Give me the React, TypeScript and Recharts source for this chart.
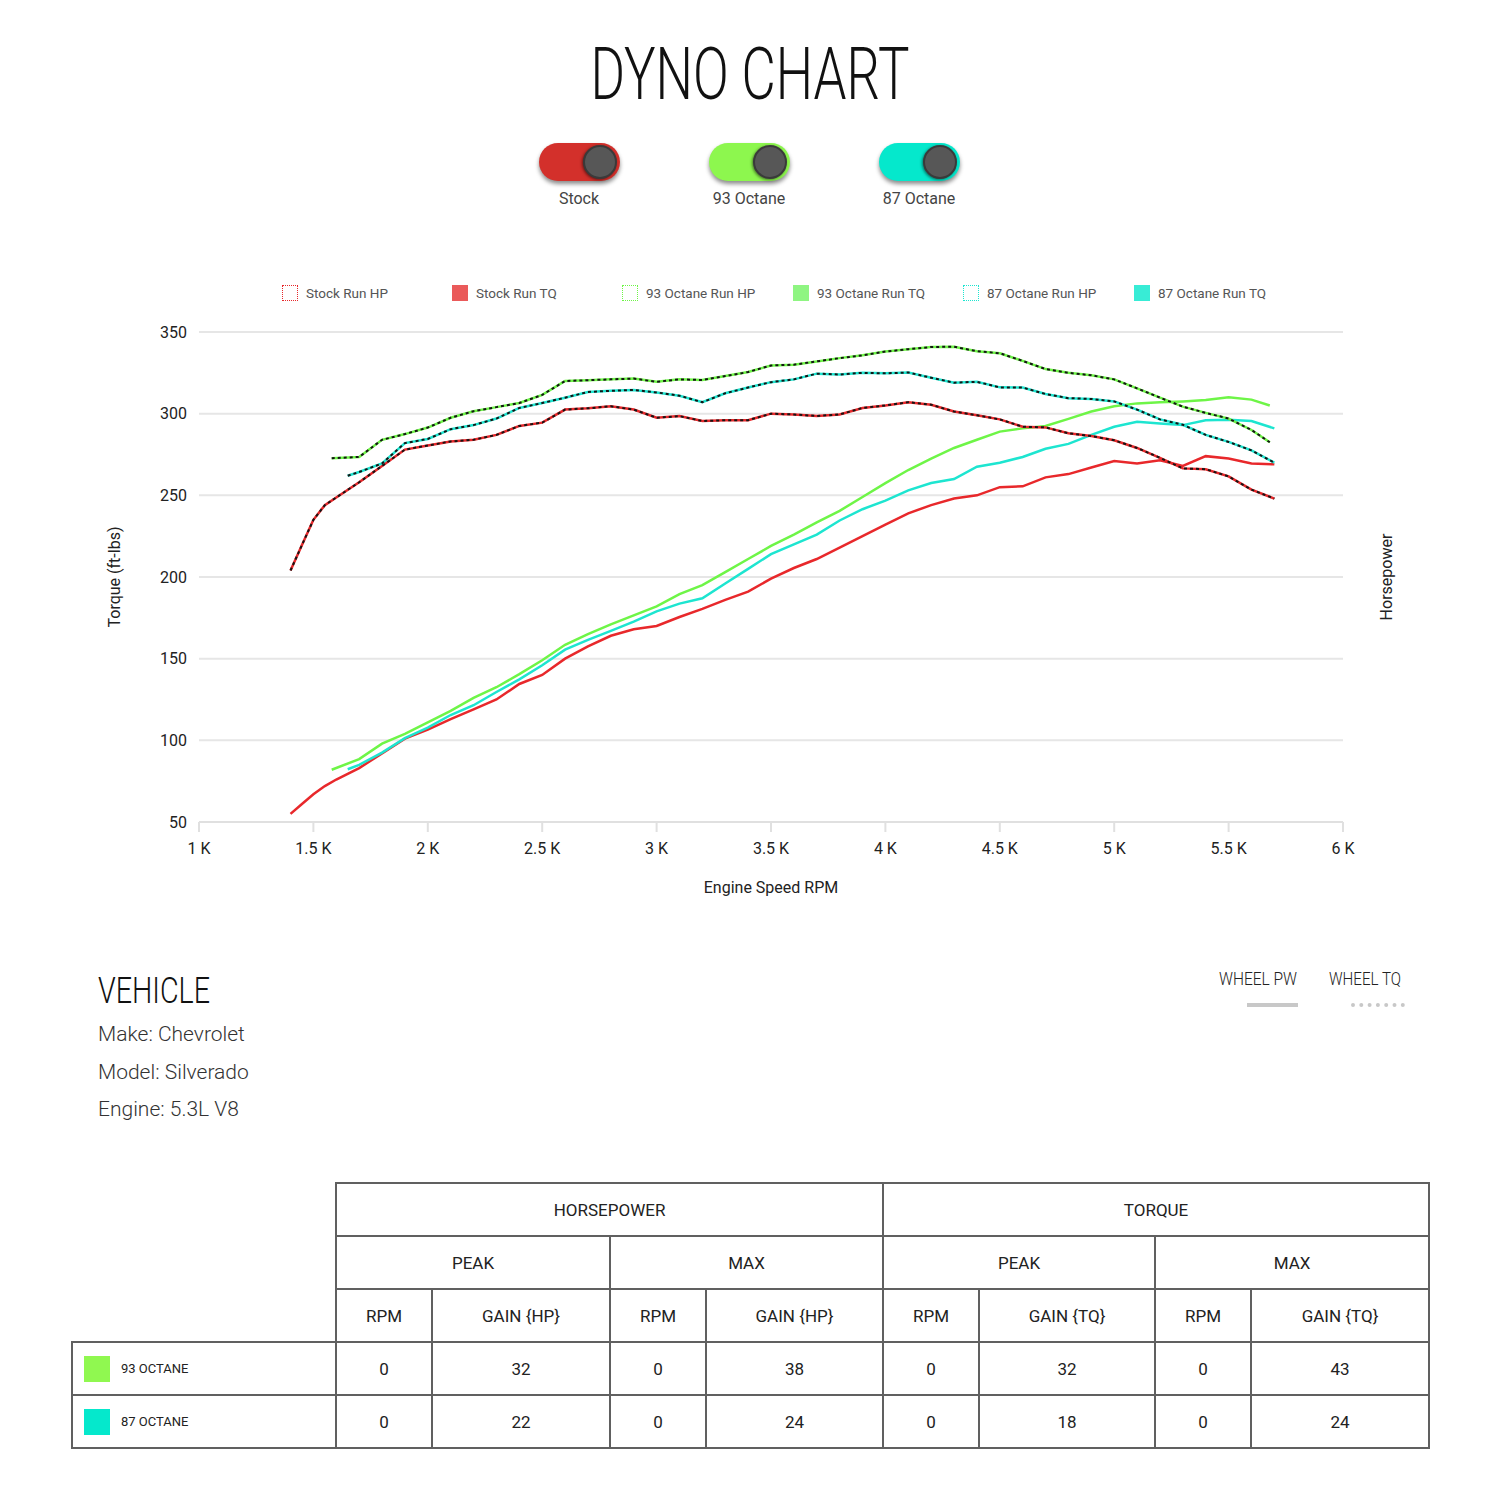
import React from "react";
import { CartesianGrid, Line, LineChart, XAxis, YAxis } from "recharts";

// rpm grids per run (each run was logged over a slightly different range)
const stockRpm = [1400, 1450, 1500, 1550, 1600, 1700, 1800, 1900, 2000, 2100, 2200, 2300, 2400, 2500, 2600, 2700, 2800, 2900, 3000, 3100, 3200, 3300, 3400, 3500, 3600, 3700, 3800, 3900, 4000, 4100, 4200, 4300, 4400, 4500, 4600, 4700, 4800, 4900, 5000, 5100, 5200, 5300, 5400, 5500, 5600, 5700];
const oct93Rpm = [1580, 1700, 1800, 1900, 2000, 2100, 2200, 2300, 2400, 2500, 2600, 2700, 2800, 2900, 3000, 3100, 3200, 3300, 3400, 3500, 3600, 3700, 3800, 3900, 4000, 4100, 4200, 4300, 4400, 4500, 4600, 4700, 4800, 4900, 5000, 5100, 5200, 5300, 5400, 5500, 5600, 5680];
const oct87Rpm = [1650, 1700, 1800, 1900, 2000, 2100, 2200, 2300, 2400, 2500, 2600, 2700, 2800, 2900, 3000, 3100, 3200, 3300, 3400, 3500, 3600, 3700, 3800, 3900, 4000, 4100, 4200, 4300, 4400, 4500, 4600, 4700, 4800, 4900, 5000, 5100, 5200, 5300, 5400, 5500, 5600, 5700];

const stockTq = [204, 219.6, 235, 244, 248.7, 258, 268, 278, 280.5, 283, 284, 287, 292.5, 294.5, 302.5, 303.3, 304.5, 302.5, 297.5, 298.5, 295.5, 296, 296, 300, 299.5, 298.6, 299.5, 303.5, 305, 307, 305.5, 301.3, 299, 296.5, 292, 291.6, 288, 286.3, 283.7, 279, 273, 266.5, 266, 261.6, 253.5, 248];
const stockHp = [55, 61, 67, 72, 76, 83, 92, 101, 106.5, 113, 119, 125, 134.5, 140, 150, 157.5, 164, 168, 170, 175.5, 180.5, 186, 191, 199, 205.5, 211, 218, 225, 232, 239, 244, 248, 250, 255, 255.5, 261, 263, 267, 271, 269.5, 271.5, 268, 274, 272.5, 269.5, 269];
const oct93Tq = [272.7, 273.5, 284, 287.5, 291.5, 297.5, 301.5, 304, 306.5, 311.5, 320, 320.5, 321, 321.5, 319.5, 321, 320.6, 323, 325.5, 329.5, 330, 332, 334, 335.7, 338, 339.5, 340.8, 341, 338.2, 337, 332.3, 327.3, 325, 323.5, 321, 315.5, 309.8, 304.3, 300.5, 297, 290, 282.5];
const oct93Hp = [82, 88.5, 98, 104, 111, 118, 126, 132.5, 140.5, 149, 158.5, 165, 171, 176.5, 182, 189.5, 195, 203, 211, 219, 226, 233.5, 240.5, 249, 257.5, 265.5, 272.5, 279, 284, 289, 291, 292.5, 296.8, 301.3, 304.5, 306.3, 307, 307.5, 308.3, 310, 308.6, 305];
const oct87Tq = [262, 264.3, 269.5, 282, 284.5, 290.5, 293, 297, 303.5, 306.5, 309.8, 313.3, 314, 314.5, 313, 311, 307, 312.5, 316, 319.3, 321, 324.5, 324, 325, 324.7, 325.2, 322, 319, 319.5, 316.1, 316, 312, 309.5, 309, 307.5, 302.5, 296.5, 293.2, 287, 282.7, 277.5, 270];
const oct87Hp = [82.3, 85, 92.5, 101.3, 107.8, 115.5, 121.5, 129.6, 137.3, 146, 155.5, 161.5, 167, 172.7, 179, 183.7, 187, 196, 205, 214, 220, 226, 234.6, 241.5, 246.8, 253, 257.5, 260, 267.5, 270, 273.5, 278.5, 281.5, 287, 292, 295, 294, 293, 296, 296.2, 295.5, 291];

const xTicks = [1000, 1500, 2000, 2500, 3000, 3500, 4000, 4500, 5000, 5500, 6000];
const yTicks = [50, 100, 150, 200, 250, 300, 350];

const runs = ["Stock", "93 Octane", "87 Octane"];
const runColors = ["#e8282b", "#6ef547", "#1de5d0"];
const toggleColors = ["#d3302b", "#8df74e", "#05e8cc"];
const legendFill = ["#ea5a5a", "#8ff582", "#38ecd6"];

const vehicleLines = ["Make: Chevrolet", "Model: Silverado", "Engine: 5.3L V8"];

const tableRuns = ["93 OCTANE", "87 OCTANE"];
const tableSwatch = ["#90f850", "#05e8cc"];
const hpPeakRpm = [0, 0];
const hpPeakGain = [32, 22];
const hpMaxRpm = [0, 0];
const hpMaxGain = [38, 24];
const tqPeakRpm = [0, 0];
const tqPeakGain = [32, 18];
const tqMaxRpm = [0, 0];
const tqMaxGain = [43, 24];

const FONT = "Roboto, 'Noto Sans', sans-serif";

const toPoints = (rpm: number[], vals: number[]) => rpm.map((r, i) => ({ rpm: r, value: vals[i] }));

const tqSeries = [toPoints(stockRpm, stockTq), toPoints(oct93Rpm, oct93Tq), toPoints(oct87Rpm, oct87Tq)];
const hpSeries = [toPoints(stockRpm, stockHp), toPoints(oct93Rpm, oct93Hp), toPoints(oct87Rpm, oct87Hp)];

function YTitle(props: any) {
  const { viewBox, value, off } = props;
  const cx = viewBox.x + off;
  const cy = viewBox.y + viewBox.height / 2;
  return (
    <text x={cx} y={cy} transform={`rotate(-90 ${cx} ${cy})`} textAnchor="middle" dominantBaseline="central"
      fontSize={16} fill="#222" fontFamily={FONT}>{value}</text>
  );
}

function XTitle(props: any) {
  const { viewBox, value } = props;
  return (
    <text x={viewBox.x + viewBox.width / 2} y={viewBox.y + 65} textAnchor="middle" dominantBaseline="central"
      fontSize={16} fill="#222" fontFamily={FONT}>{value}</text>
  );
}

function Toggle({ color, label, left }: { color: string; label: string; left: number }) {
  return (
    <>
      <div style={{ position: "absolute", left, top: 143, width: 81, height: 38, borderRadius: 19, background: color,
        boxShadow: "0 3px 4px rgba(0,0,0,0.45)" }}>
        <div style={{ position: "absolute", right: 3, top: 2, width: 34, height: 34, borderRadius: "50%", background: "#575757",
          border: "2px solid #3a3a3a", boxSizing: "border-box", boxShadow: "-1px 1px 3px rgba(0,0,0,0.5)" }} />
      </div>
      <div style={{ position: "absolute", left: left + 40 - 100, top: 190, width: 200, textAlign: "center",
        fontSize: 16, lineHeight: "18px", color: "#444" }}>{label}</div>
    </>
  );
}

function Legend() {
  const xs = [282, 452, 622, 793, 963, 1134];
  const items: { label: string; color: string; filled: boolean }[] = [];
  runs.forEach((r, i) => {
    items.push({ label: `${r} Run HP`, color: runColors[i], filled: false });
    items.push({ label: `${r} Run TQ`, color: legendFill[i], filled: true });
  });
  return (
    <>
      {items.map((it, i) => (
        <React.Fragment key={it.label}>
          <div style={{ position: "absolute", left: xs[i], top: 285, width: 16, height: 16, boxSizing: "border-box",
            background: it.filled ? it.color : "transparent", border: it.filled ? "none" : `1px dotted ${it.color}` }} />
          <div style={{ position: "absolute", left: xs[i] + 24, top: 285, fontSize: 13.5, lineHeight: "16px", color: "#555", whiteSpace: "nowrap" }}>{it.label}</div>
        </React.Fragment>
      ))}
    </>
  );
}

function DynoChart() {
  return (
    <div style={{ position: "absolute", left: 0, top: 312, width: 1500, height: 600 }}>
      <LineChart width={1500} height={600} margin={{ top: 20, right: 97, bottom: 10, left: 99 }}>
        <CartesianGrid yAxisId="tq" vertical={false} stroke="#e6e6e6" strokeWidth={2} />
        <XAxis dataKey="rpm" type="number" domain={[1000, 6000]} ticks={xTicks} interval={0}
          tickFormatter={(v: number) => `${v / 1000} K`} height={80} tickSize={10} tickMargin={11}
          stroke="#e0e0e0" strokeWidth={2} tick={{ fill: "#222", fontSize: 16, fontFamily: FONT }}
          label={<XTitle value="Engine Speed RPM" />} />
        <YAxis yAxisId="tq" domain={[50, 350]} ticks={yTicks} interval={0} width={100} axisLine={false} tickLine={false}
          tickSize={6} tickMargin={6} tick={{ fill: "#222", fontSize: 16, fontFamily: FONT }}
          label={<YTitle value="Torque (ft-lbs)" off={15} />} />
        <YAxis yAxisId="hp" orientation="right" domain={[50, 350]} ticks={yTicks} width={60} axisLine={false}
          tickLine={false} tick={false} label={<YTitle value="Horsepower" off={43} />} />
        {hpSeries.map((d, i) => (
          <Line key={`hp${i}`} yAxisId="hp" data={d} dataKey="value" type="linear" stroke={runColors[i]}
            strokeWidth={2.5} dot={false} activeDot={false} isAnimationActive={false} />
        ))}
        {tqSeries.map((d, i) => (
          <Line key={`tq${i}`} yAxisId="tq" data={d} dataKey="value" type="linear" stroke={runColors[i]}
            strokeWidth={2.5} dot={false} activeDot={false} isAnimationActive={false} />
        ))}
        {tqSeries.map((d, i) => (
          <Line key={`tqd${i}`} yAxisId="tq" data={d} dataKey="value" type="linear" stroke="#151515"
            strokeWidth={2} strokeDasharray="3 3" dot={false} activeDot={false} isAnimationActive={false} />
        ))}
      </LineChart>
    </div>
  );
}

function Vehicle() {
  return (
    <>
      <svg style={{ position: "absolute", left: 0, top: 950 }} width={1500} height={70}>
        <text x={98} y={53} fontSize={37} fontWeight={300} fontFamily={FONT} fill="#111" textLength={112}
          lengthAdjust="spacingAndGlyphs">VEHICLE</text>
        <text x={1219} y={35} fontSize={18} fontWeight={300} fontFamily={FONT} fill="#222" textLength={78}
          lengthAdjust="spacingAndGlyphs">WHEEL PW</text>
        <text x={1329} y={35} fontSize={18} fontWeight={300} fontFamily={FONT} fill="#222" textLength={72}
          lengthAdjust="spacingAndGlyphs">WHEEL TQ</text>
        <rect x={1247} y={53} width={51} height={4} fill="#c8c8c8" />
        <line x1={1353} y1={55} x2={1403} y2={55} stroke="#c8c8c8" strokeWidth={4} strokeDasharray="0 8.3" strokeLinecap="round" />
      </svg>
      {vehicleLines.map((t, i) => (
        <div key={t} style={{ position: "absolute", left: 98, top: 1022 + i * 37.5, fontSize: 21, fontWeight: 300,
          lineHeight: "24px", color: "#333" }}>{t}</div>
      ))}
    </>
  );
}

const cell: React.CSSProperties = { border: "2px solid #606060", textAlign: "center", fontSize: 17, color: "#222", padding: 0 };
const blank: React.CSSProperties = { border: "none", padding: 0 };

function StatsTable() {
  const widths = [264, 96, 178, 96, 177, 96, 176, 96, 178];
  return (
    <table style={{ position: "absolute", left: 71, top: 1182, width: 1357, borderCollapse: "collapse", tableLayout: "fixed", fontFamily: FONT }}>
      <colgroup>{widths.map((w, i) => <col key={i} style={{ width: w }} />)}</colgroup>
      <tbody>
        <tr style={{ height: 53 }}>
          <td style={blank} />
          <td style={cell} colSpan={4}>HORSEPOWER</td>
          <td style={cell} colSpan={4}>TORQUE</td>
        </tr>
        <tr style={{ height: 53 }}>
          <td style={blank} />
          {["PEAK", "MAX", "PEAK", "MAX"].map((t, i) => <td key={i} style={cell} colSpan={2}>{t}</td>)}
        </tr>
        <tr style={{ height: 53 }}>
          <td style={blank} />
          {["RPM", "GAIN {HP}", "RPM", "GAIN {HP}", "RPM", "GAIN {TQ}", "RPM", "GAIN {TQ}"].map((t, i) => <td key={i} style={cell}>{t}</td>)}
        </tr>
        {tableRuns.map((r, i) => (
          <tr key={r} style={{ height: 53 }}>
            <td style={{ ...cell, textAlign: "left", paddingLeft: 11 }}>
              <div style={{ display: "flex", alignItems: "center" }}>
                <div style={{ width: 26, height: 26, background: tableSwatch[i], marginRight: 11 }} />
                <span style={{ fontSize: 13 }}>{r}</span>
              </div>
            </td>
            {[hpPeakRpm[i], hpPeakGain[i], hpMaxRpm[i], hpMaxGain[i], tqPeakRpm[i], tqPeakGain[i], tqMaxRpm[i], tqMaxGain[i]].map((v, j) => (
              <td key={j} style={cell}>{v}</td>
            ))}
          </tr>
        ))}
      </tbody>
    </table>
  );
}

export default function App() {
  return (
    <div style={{ position: "relative", width: 1500, height: 1500, margin: -8, background: "#fff", fontFamily: FONT, overflow: "hidden" }}>
      <svg style={{ position: "absolute", left: 0, top: 0 }} width={1500} height={120}>
        <text x={750} y={99} textAnchor="middle" fontSize={73} fontWeight={300} fontFamily={FONT} fill="#111"
          textLength={319} lengthAdjust="spacingAndGlyphs">DYNO CHART</text>
      </svg>
      {runs.map((r, i) => (
        <Toggle key={r} color={toggleColors[i]} label={r} left={539 + i * 170} />
      ))}
      <Legend />
      <DynoChart />
      <Vehicle />
      <StatsTable />
    </div>
  );
}
